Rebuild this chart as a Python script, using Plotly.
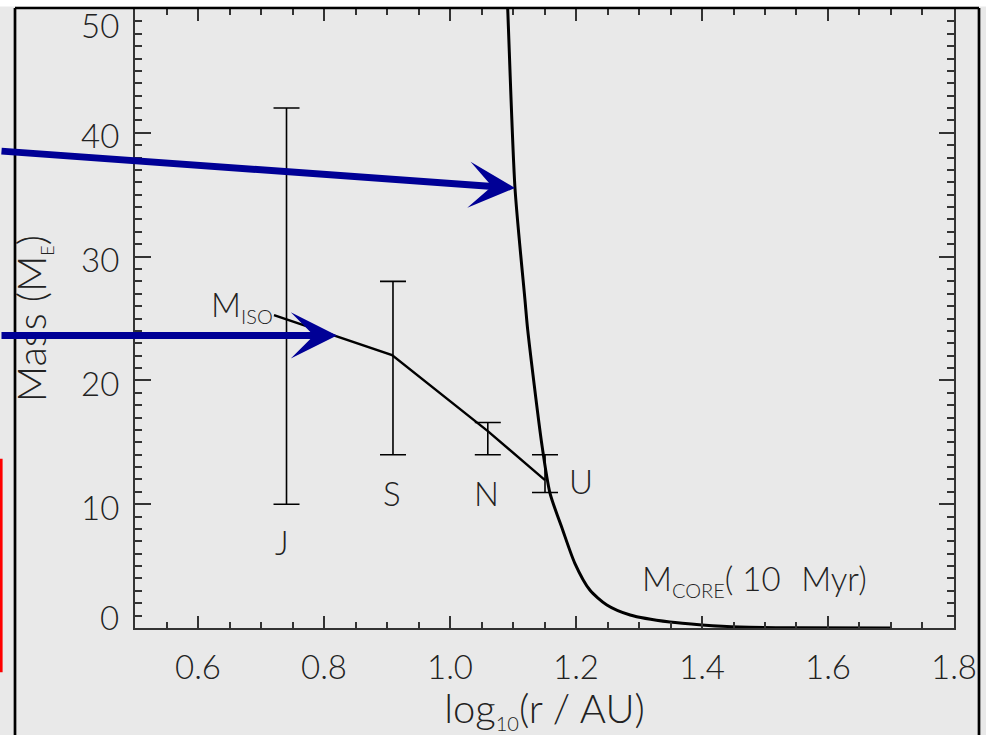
import plotly.graph_objects as go

# ---- data -------------------------------------------------------------
planets = ["J", "S", "N", "U"]
planet_logr = [0.7405, 0.9095, 1.060, 1.1508]
mass_low = [10.0, 14.0, 14.0, 10.95]
mass_high = [42.0, 28.0, 16.6, 14.0]

# isolation mass along the planet positions
iso_logr = [0.7206, 0.908, 1.060, 1.1508]
iso_mass = [25.28, 22.05, 15.9, 11.95]

# core mass reached after 10 Myr
core_logr = [1.086, 1.0916, 1.1032, 1.119, 1.1233, 1.1456, 1.1587, 1.179,
             1.198, 1.222, 1.249, 1.286, 1.349, 1.40, 1.46, 1.55, 1.70]
core_mass = [57.0, 50.0, 35.5, 26.5, 24.1, 14.9, 10.9, 7.9,
             5.25, 3.07, 1.86, 1.05, 0.48, 0.25, 0.08, 0.02, 0.0]

x_ticks = [0.6, 0.8, 1.0, 1.2, 1.4, 1.6, 1.8]
y_ticks = [0, 10, 20, 30, 40, 50]

# ---- page geometry ----------------------------------------------------
W, H = 986, 735
ML, MR, MT, MB = 135, 32, 9, 107
PW, PH = W - ML - MR, H - MT - MB


def px_x(p):
    return (p - ML) / PW


def px_y(p):
    return (H - MB - p) / PH


INK = "#222222"
AXC = "#333333"
BLUE = "#000096"
BG = "#e9e9e9"
FONT = dict(family="Lato, 'Open Sans', sans-serif", size=33, color=INK, weight=300)


def small(s, size=20):
    return f"<sub><span style='font-size:{size}px'>{s}</span></sub>"


fig = go.Figure()

# error bars for each planet
mid = [(lo + hi) / 2 for lo, hi in zip(mass_low, mass_high)]
fig.add_trace(go.Scatter(
    x=planet_logr, y=mid, mode="markers",
    marker=dict(size=1, color="rgba(0,0,0,0)"),
    error_y=dict(type="data", symmetric=False,
                 array=[hi - m for hi, m in zip(mass_high, mid)],
                 arrayminus=[m - lo for lo, m in zip(mass_low, mid)],
                 color="black", thickness=1.6, width=13),
    hoverinfo="skip", showlegend=False,
))

# isolation mass
fig.add_trace(go.Scatter(
    x=iso_logr, y=iso_mass, mode="lines",
    line=dict(color="black", width=2.4), showlegend=False,
))

# core mass curve
fig.add_trace(go.Scatter(
    x=core_logr, y=core_mass, mode="lines",
    line=dict(color="black", width=3, shape="spline", smoothing=0.7),
    showlegend=False,
))

annotations = []

# planet letters
for name, xr, lo, hi in zip(planets, planet_logr, mass_low, mass_high):
    if name == "U":
        annotations.append(dict(x=xr, y=(lo + hi) / 2, xref="x", yref="y",
                                text=name, showarrow=False, xanchor="center",
                                yanchor="middle", xshift=36, yshift=-7))
    else:
        annotations.append(dict(x=xr, y=lo, xref="x", yref="y", text=name,
                                showarrow=False, xanchor="center",
                                yanchor="middle", yshift=-38,
                                xshift=-5 if name == "J" else -1))

# y tick labels
for v in y_ticks:
    shift = -2.5
    if v == y_ticks[0]:
        shift = 11.5
    elif v == y_ticks[-1]:
        shift = -16
    annotations.append(dict(x=px_x(121), y=v, xref="paper", yref="y",
                            text=str(v), showarrow=False, xanchor="right",
                            yanchor="middle", yshift=shift))

# curve labels
annotations.append(dict(x=iso_logr[0], y=iso_mass[0], xref="x", yref="y",
                        text="M" + small("ISO"),
                        showarrow=False, xanchor="right", yanchor="middle",
                        xshift=1, yshift=9))
annotations.append(dict(x=1.3016, y=3.9, xref="x", yref="y",
                        text="M" + small("CORE") + "( 10\u2002\u2009Myr)",
                        showarrow=False, xanchor="left", yanchor="middle"))

# blue pointer arrows
annotations.append(dict(x=1.1032, y=35.54, xref="x", yref="y", text="",
                        showarrow=True, ax=-530, ay=-37, arrowhead=3,
                        arrowsize=1.1, arrowwidth=7, arrowcolor=BLUE))
annotations.append(dict(x=0.8206, y=23.63, xref="x", yref="y", text="",
                        showarrow=True, ax=-352, ay=0, arrowhead=3,
                        arrowsize=1.1, arrowwidth=7, arrowcolor=BLUE))

shapes = [
    # white strip along the top edge
    dict(type="rect", xref="paper", yref="paper",
         x0=px_x(-10), x1=px_x(W + 10), y0=px_y(6.5), y1=px_y(-10),
         fillcolor="white", line=dict(width=0), layer="above"),
    # black frame
    dict(type="line", xref="paper", yref="paper",
         x0=px_x(15), x1=px_x(979), y0=px_y(8), y1=px_y(8),
         line=dict(color="black", width=2.7), layer="above"),
    dict(type="line", xref="paper", yref="paper",
         x0=px_x(15), x1=px_x(15), y0=px_y(8), y1=px_y(H + 10),
         line=dict(color="black", width=2.7), layer="above"),
    dict(type="line", xref="paper", yref="paper",
         x0=px_x(979), x1=px_x(979), y0=px_y(8), y1=px_y(H + 10),
         line=dict(color="black", width=2.7), layer="above"),
    # red box edge on the far left
    dict(type="rect", xref="paper", yref="paper",
         x0=px_x(-30), x1=px_x(1.3), y0=px_y(671), y1=px_y(460),
         line=dict(color="#ff0000", width=2.6), layer="above"),
]

axis_common = dict(
    ticks="inside", mirror="allticks", showline=True, linecolor=AXC,
    linewidth=2, tickcolor=AXC, tickwidth=2, showgrid=False, zeroline=False,
)

fig.update_layout(
    width=W, height=H,
    margin=dict(l=ML, r=MR, t=MT, b=MB, autoexpand=False),
    paper_bgcolor=BG, plot_bgcolor=BG,
    font=FONT,
    showlegend=False,
    annotations=annotations,
    shapes=shapes,
    xaxis=dict(
        range=[0.5, 1.80001], tickmode="array", tickvals=x_ticks,
        ticktext=[f"{v:.1f}" for v in x_ticks],
        ticklen=12, ticklabelstandoff=9,
        minor=dict(tickmode="linear", tick0=0.5, dtick=0.05, ticklen=6,
                   tickwidth=2, tickcolor=AXC, ticks="inside"),
        title=dict(text="log" + small("10") + "(r / AU)", standoff=26),
        automargin=False, **axis_common,
    ),
    yaxis=dict(
        range=[0, 50], tickmode="array", tickvals=y_ticks, showticklabels=False,
        ticklen=15.5,
        minor=dict(tickmode="linear", tick0=0, dtick=1, ticklen=7,
                   tickwidth=2, tickcolor=AXC, ticks="inside"),
        title=dict(text="Mass (M" + small("E", 18) + ")", standoff=74),
        automargin=False, **axis_common,
    ),
)

fig.write_html("out.html")
